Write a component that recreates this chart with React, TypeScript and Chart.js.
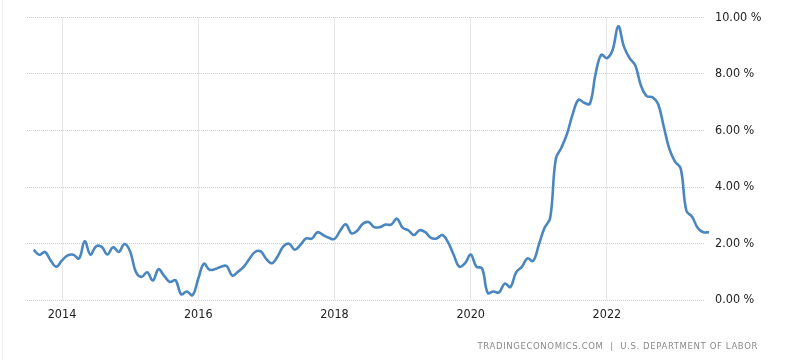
import React, { useEffect, useRef } from "react";
import { Chart, registerables } from "chart.js";

Chart.register(...registerables);

// Monthly series, Aug 2013 .. Jul 2023 (percent, year over year)
const START_YEAR = 2013;
const START_MONTH = 8; // August
const values: number[] = [
  // 2013 Aug-Dec
  1.78, 1.6, 1.7, 1.4, 1.18,
  // 2014
  1.4, 1.58, 1.6, 1.47, 2.08, 1.61, 1.9, 1.88, 1.61, 1.87, 1.7, 1.98,
  // 2015
  1.72, 1.0, 0.82, 0.98, 0.69, 1.09, 0.85, 0.64, 0.7, 0.2, 0.3, 0.17,
  // 2016
  0.75, 1.28, 1.07, 1.1, 1.18, 1.2, 0.86, 1.0, 1.17, 1.45, 1.7, 1.72,
  // 2017
  1.45, 1.3, 1.55, 1.9, 1.99, 1.78, 1.95, 2.18, 2.17, 2.4, 2.3, 2.2,
  // 2018
  2.16, 2.45, 2.68, 2.36, 2.45, 2.7, 2.76, 2.58, 2.58, 2.67, 2.67, 2.88,
  // 2019
  2.56, 2.47, 2.3, 2.47, 2.4, 2.2, 2.18, 2.3, 2.05, 1.6, 1.18, 1.3,
  // 2020
  1.61, 1.18, 1.12, 0.25, 0.3, 0.27, 0.58, 0.46, 0.98, 1.17, 1.47, 1.38,
  // 2021
  1.95, 2.55, 2.9, 5.0, 5.4, 5.9, 6.6, 7.09, 6.98, 6.95, 8.0, 8.68,
  // 2022
  8.56, 8.85, 9.69, 8.97, 8.56, 8.3, 7.59, 7.22, 7.18, 6.95, 6.15, 5.35,
  // 2023
  4.9, 4.65, 3.16, 2.95, 2.55, 2.4, 2.4,
];

const xTickYears: number[] = [2014, 2016, 2018, 2020, 2022];
const yTickValues: number[] = [0, 2, 4, 6, 8, 10];
const X_MIN = 2013.486;
const X_MAX = 2023.44;

const SOURCE_TEXT = "TRADINGECONOMICS.COM  |  U.S. DEPARTMENT OF LABOR";

export default function App() {
  const canvasRef = useRef<HTMLCanvasElement | null>(null);

  useEffect(() => {
    document.body.style.margin = "0";
    const canvas = canvasRef.current;
    if (!canvas) return;
    const points = values.map((v, i) => ({
      x: START_YEAR + (START_MONTH - 1) / 12 + i / 12,
      y: v,
    }));
    const font = { family: "'DejaVu Sans Condensed', 'DejaVu Sans', sans-serif", size: 12.5 };
    const chart = new Chart(canvas, {
      type: "line",
      data: {
        datasets: [
          {
            data: points,
            borderColor: "#4a86bf",
            borderWidth: 2.6,
            pointRadius: 0,
            tension: 0.4,
            fill: false,
            clip: 8,
          },
        ],
      },
      options: {
        animation: false,
        responsive: true,
        maintainAspectRatio: false,
        layout: { padding: { left: 27, top: 10, right: 0, bottom: 0 } },
        plugins: {
          legend: { display: false },
          tooltip: { enabled: false },
        },
        scales: {
          x: {
            type: "linear",
            min: X_MIN,
            max: X_MAX,
            afterBuildTicks: (scale: any) => {
              scale.ticks = xTickYears.map((v) => ({ value: v }));
            },
            afterFit: (scale: any) => {
              scale.height = 60;
            },
            grid: { color: "#d0d0d0", drawTicks: false, lineWidth: 1 },
            border: { display: false, dash: [1, 1] },
            ticks: {
              color: "#222",
              font,
              padding: 7,
              maxRotation: 0,
              autoSkip: false,
              callback: (v: any) => String(v),
            },
          },
          y: {
            type: "linear",
            position: "right",
            min: 0,
            max: 10,
            afterBuildTicks: (scale: any) => {
              scale.ticks = yTickValues.map((v) => ({ value: v }));
            },
            afterFit: (scale: any) => {
              scale.width = 98;
            },
            grid: { color: "#d0d0d0", drawTicks: false, lineWidth: 1 },
            border: { display: false, dash: [1, 1] },
            ticks: {
              color: "#222",
              font,
              padding: 10,
              callback: (v: any) => Number(v).toFixed(2) + " %",
            },
          },
        },
      },
    });
    return () => chart.destroy();
  }, []);

  return (
    <div
      style={{
        position: "fixed",
        left: 0,
        top: 0,
        width: 803,
        height: 360,
        background: "#fff",
      }}
    >
      <div
        style={{
          position: "absolute",
          left: 2,
          top: 0,
          width: 1,
          height: 360,
          background: "#f0f0f0",
        }}
      />
      <canvas ref={canvasRef} />
      <div
        style={{
          position: "absolute",
          right: 45,
          top: 340,
          fontFamily: "'DejaVu Sans Condensed', 'DejaVu Sans', sans-serif",
          fontSize: 9.5,
          letterSpacing: 0.6,
          color: "#8a8a8a",
          whiteSpace: "pre",
          lineHeight: "12px",
        }}
      >
        {SOURCE_TEXT}
      </div>
    </div>
  );
}
